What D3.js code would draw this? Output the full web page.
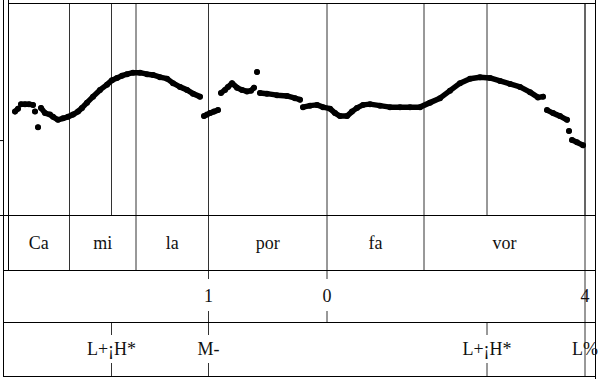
<!DOCTYPE html>
<html>
<head>
<meta charset="utf-8">
<script src="https://cdn.jsdelivr.net/npm/d3@7"></script>
<style>
  html, body { margin: 0; padding: 0; background: #fff; }
  svg { display: block; }
  text { font-family: 'Liberation Serif', 'Times New Roman', serif; font-size: 18px; fill: #111; }
</style>
</head>
<body>
<div id="chart"></div>
<script>
// Data
const syllableLabels = ['Ca', 'mi', 'la', 'por', 'fa', 'vor'];
const syllableBounds = [0, 0.1845, 0.384, 0.6015, 0.957, 1.248, 1.731];

const breakTimes = [0.6015, 0.957, 1.731];
const breakLabels = ['1', '0', '4'];

const toneTimes = [0.3105, 0.6015, 1.437, 1.731];
const toneLabels = ['L+¡H*', 'M-', 'L+¡H*', 'L%'];

const yTicks = [100, 200];

// pitch track (s, Hz); null separates voiced stretches
const pitchTimes = [
  0.021, 0.030, null,
  0.039, 0.051, 0.063, 0.075, null,
  0.081, null,
  0.090, null,
  0.099, 0.111, 0.126, 0.135, 0.150, 0.165, 0.180, 0.195, 0.210, 0.222, 0.237, 0.255, 0.276, 0.297,
  0.312, 0.327, 0.342, 0.357, 0.375, 0.396, 0.417, 0.435, 0.456, 0.477, 0.495, 0.516, 0.537, 0.555, 0.576, null,
  0.588, 0.597, null,
  0.606, 0.618, 0.630, null,
  0.639, 0.651, 0.660, 0.672, 0.687, 0.702, 0.717, 0.729, 0.738, null,
  0.747, null,
  0.756, 0.777, 0.807, 0.837, 0.861, 0.876, null,
  0.885, 0.906, 0.927, 0.945, 0.966, 0.981, 0.996, 1.017, 1.032, 1.047, 1.065, 1.086, 1.116, 1.146,
  1.176, 1.206, 1.236, 1.266, 1.296, 1.326, 1.356, 1.386, 1.416, 1.446, 1.476, 1.506, 1.536, 1.566,
  1.590, 1.605, null,
  1.617, 1.635, 1.656, 1.677, null,
  1.683, null,
  1.692, 1.707, 1.725
];
const pitchHz = [
  238, 242, null,
  248, 248, 248, 247, null,
  238, null,
  217, null,
  243, 236, 234, 231, 227, 229, 231, 234, 238, 243, 250, 258, 267, 274,
  280, 283, 286, 288, 290, 290, 288, 287, 284, 282, 276, 271, 267, 262, 258, null,
  232, 234, null,
  236, 238, 240, null,
  263, 267, 271, 276, 270, 267, 265, 266, 270, null,
  291, null,
  263, 262, 260, 259, 256, 254, null,
  244, 246, 247, 244, 242, 236, 232, 232, 238, 243, 247, 248, 246, 244,
  244, 244, 244, 250, 256, 266, 276, 282, 284, 283, 279, 275, 271, 264,
  257, 258, null,
  240, 236, 232, 227, null,
  212, null,
  200, 197, 193
];

// Layout
const W = 600, H = 379;
const frame = { axisX: 3, left: 8, right: 595, top: 3 };
const tiers = { pitch: [3, 215], syll: [215, 270], brk: [270, 322], tone: [322, 376] };
const GAP = 15;

const svg = d3.select('#chart').append('svg')
  .attr('width', W)
  .attr('height', H);

const x = d3.scaleLinear()
  .domain([0, 1.761])
  .range([frame.left, frame.right]);

const y = d3.scaleLinear()
  .domain([100, 383])
  .range([tiers.pitch[1], tiers.pitch[0]]);

const endT = syllableBounds[syllableBounds.length - 1];

function vline(g, xp, y1, y2, color) {
  g.append('line')
    .attr('x1', xp).attr('x2', xp)
    .attr('y1', y1).attr('y2', y2)
    .attr('stroke', color)
    .attr('stroke-width', 1);
}

function hline(g, x1, x2, yp) {
  g.append('line')
    .attr('x1', x1).attr('x2', x2)
    .attr('y1', yp).attr('y2', yp)
    .attr('stroke', '#000')
    .attr('stroke-width', 1)
    .attr('shape-rendering', 'crispEdges');
}

const lines = svg.append('g');

// syllable boundaries run through the pitch panel and the syllable tier
syllableBounds.slice(1).forEach(t => vline(lines, x(t), tiers.pitch[0], tiers.syll[1], '#333'));

// tone markers: pitch panel + tone tier (gap round the label)
toneTimes.forEach(t => {
  vline(lines, x(t), tiers.pitch[0], tiers.pitch[1], '#333');
  const mid = (tiers.tone[0] + tiers.tone[1]) / 2;
  if (t === endT) {
    vline(lines, x(t), tiers.tone[0], tiers.tone[1], '#333');
  } else {
    vline(lines, x(t), tiers.tone[0], mid - GAP + 1, '#333');
    vline(lines, x(t), mid + GAP - 1, tiers.tone[1], '#333');
  }
});

// break indices
breakTimes.forEach(t => {
  const mid = (tiers.brk[0] + tiers.brk[1]) / 2;
  if (t === endT) {
    vline(lines, x(t), tiers.brk[0], tiers.brk[1], '#333');
  } else {
    vline(lines, x(t), tiers.brk[0], mid - GAP - 2, '#333');
    vline(lines, x(t), mid + GAP, tiers.brk[1], '#333');
  }
});

// frame
const fr = svg.append('g');
vline(fr, frame.axisX + 0.5, 0, tiers.tone[1] + 1, '#000');
vline(fr, frame.left + 0.5, 0, tiers.syll[1] + 1, '#000');
vline(fr, frame.right + 0.5, 0, H, '#000');
hline(fr, frame.left, frame.right + 1, frame.top);
hline(fr, 0, frame.right + 1, tiers.pitch[1]);
hline(fr, frame.axisX, frame.right + 1, tiers.syll[1]);
hline(fr, frame.axisX, frame.right + 1, tiers.brk[1]);
hline(fr, frame.axisX, frame.right + 1, tiers.tone[1]);

// y axis ticks (unlabelled)
const yAxis = svg.append('g')
  .attr('transform', `translate(${frame.axisX}, 0)`)
  .call(d3.axisLeft(y).tickValues(yTicks).tickSize(3).tickFormat(''));
yAxis.select('.domain').remove();
yAxis.selectAll('.tick line').attr('stroke', '#000');

// pitch track
const pts = pitchTimes.map((t, i) => ({ t, hz: pitchHz[i] }));
const line = d3.line()
  .defined(d => d.t !== null && d.hz !== null)
  .x(d => x(d.t))
  .y(d => y(d.hz));

svg.append('path')
  .datum(pts)
  .attr('d', line)
  .attr('fill', 'none')
  .attr('stroke', '#000')
  .attr('stroke-width', 5.5)
  .attr('stroke-linecap', 'round')
  .attr('stroke-linejoin', 'round');

svg.append('g')
  .selectAll('circle')
  .data(pts.filter(d => d.t !== null))
  .join('circle')
  .attr('cx', d => x(d.t))
  .attr('cy', d => y(d.hz))
  .attr('r', 3)
  .attr('fill', '#000');

// tier labels
const ty = tier => (tier[0] + tier[1]) / 2 + 6;

svg.append('g')
  .selectAll('text')
  .data(syllableLabels)
  .join('text')
  .attr('x', (d, i) => (x(syllableBounds[i]) + x(syllableBounds[i + 1])) / 2)
  .attr('y', ty(tiers.syll))
  .attr('text-anchor', 'middle')
  .text(d => d);

svg.append('g')
  .selectAll('text')
  .data(breakLabels)
  .join('text')
  .attr('x', (d, i) => x(breakTimes[i]))
  .attr('y', ty(tiers.brk))
  .attr('text-anchor', 'middle')
  .text(d => d);

svg.append('g')
  .selectAll('text')
  .data(toneLabels)
  .join('text')
  .attr('x', (d, i) => x(toneTimes[i]))
  .attr('y', ty(tiers.tone))
  .attr('text-anchor', 'middle')
  .text(d => d);
</script>
</body>
</html>
